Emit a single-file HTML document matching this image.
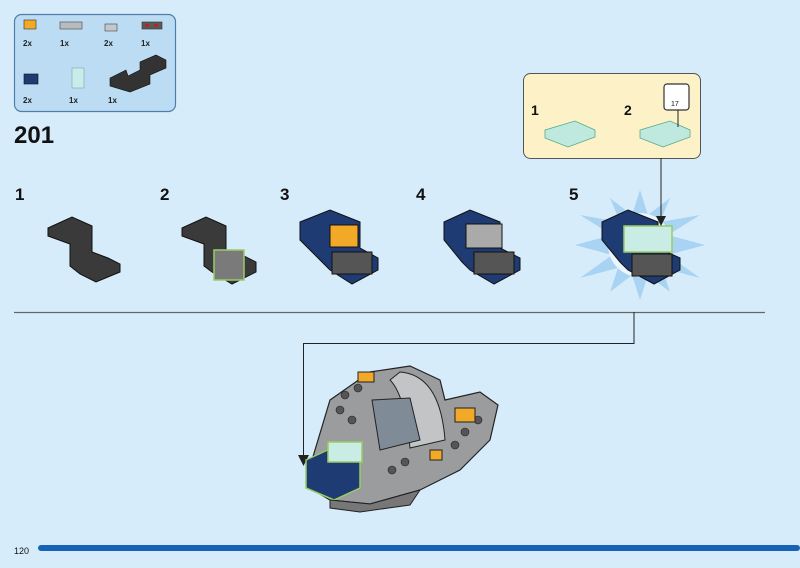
<!DOCTYPE html>
<html><head><style>
html,body{margin:0;padding:0;background:#d7ecfa;}
svg{display:block;font-family:"Liberation Sans",sans-serif;}
</style></head><body>
<svg width="800" height="568" viewBox="0 0 800 568" xmlns="http://www.w3.org/2000/svg">
<rect width="800" height="568" fill="#d7ecfa"/>
<rect x="14.5" y="14.5" width="161" height="97" rx="7" fill="#bcdcf3" stroke="#4f7fa8" stroke-width="1.2"/>
<g font-size="8" font-weight="bold" fill="#222">
<rect x="24" y="20" width="12" height="9" fill="#f2a928" stroke="#333" stroke-width=".6"/>
<text x="23" y="46">2x</text>
<rect x="60" y="22" width="22" height="7" fill="#b9bcbf" stroke="#444" stroke-width=".6"/>
<text x="60" y="46">1x</text>
<rect x="105" y="24" width="12" height="7" fill="#c5c8cb" stroke="#444" stroke-width=".6"/>
<text x="104" y="46">2x</text>
<rect x="142" y="22" width="20" height="7" fill="#5a5a5a" stroke="#333" stroke-width=".6"/>
<rect x="145" y="24" width="4" height="3" fill="#b22"/><rect x="154" y="24" width="4" height="3" fill="#b22"/>
<text x="141" y="46">1x</text>
<rect x="24" y="74" width="14" height="10" fill="#1f3b73" stroke="#111" stroke-width=".6"/>
<text x="23" y="103">2x</text>
<rect x="72" y="68" width="12" height="20" fill="#c9ecea" stroke="#7aa" stroke-width=".6"/>
<text x="69" y="103">1x</text>
<polygon points="110,78 126,70 128,76 140,70 140,62 156,55 166,60 166,68 150,75 150,84 130,92 110,86" fill="#333" stroke="#111" stroke-width=".6"/>
<text x="108" y="103">1x</text>
</g>
<text x="14" y="143" font-size="24" font-weight="bold" fill="#111">201</text>
<rect x="523.5" y="73.5" width="177" height="85" rx="7" fill="#fdf1c8" stroke="#555" stroke-width="1"/>
<text x="531" y="115" font-size="14" font-weight="bold" fill="#111">1</text>
<text x="624" y="115" font-size="14" font-weight="bold" fill="#111">2</text>
<polygon points="545,130 575,121 595,130 595,137 568,147 545,138" fill="#bfe9df" stroke="#5a8" stroke-width=".8"/>
<polygon points="640,130 670,121 690,130 690,137 663,147 640,138" fill="#bfe9df" stroke="#5a8" stroke-width=".8"/>
<rect x="664" y="84" width="25" height="26" rx="3" fill="#fff" stroke="#333" stroke-width="1.2"/>
<text x="671" y="106" font-size="7" fill="#111">17</text>
<line x1="678" y1="110" x2="678" y2="127" stroke="#222" stroke-width="1"/>
<g font-size="17" font-weight="bold" fill="#111">
<text x="15" y="200">1</text><text x="160" y="200">2</text><text x="280" y="200">3</text><text x="416" y="200">4</text><text x="569" y="200">5</text>
</g>
<polygon points="48,228 72,217 92,226 92,252 108,258 120,264 120,272 96,282 80,274 70,266 70,244 48,236" fill="#3a3a3a" stroke="#111" stroke-width="1"/>
<polygon points="182,228 206,217 226,226 226,252 236,252 256,262 256,272 232,284 212,272 204,266 204,244 182,236" fill="#3a3a3a" stroke="#111" stroke-width="1"/>
<rect x="214" y="250" width="30" height="30" fill="#7a7a7a" stroke="#9c6" stroke-width="1.5"/>
<polygon points="300,222 330,210 360,222 360,248 378,258 378,270 352,284 330,270 322,262 300,240" fill="#1f3b73" stroke="#111" stroke-width="1"/>
<rect x="330" y="225" width="28" height="22" fill="#f2a928" stroke="#111"/>
<rect x="332" y="252" width="40" height="22" fill="#555" stroke="#111"/>
<polygon points="444,222 470,210 500,222 500,248 520,258 520,270 494,284 470,270 462,262 444,240" fill="#1f3b73" stroke="#111" stroke-width="1"/>
<rect x="466" y="224" width="36" height="24" fill="#aaa" stroke="#111"/>
<rect x="474" y="252" width="40" height="22" fill="#555" stroke="#111"/>
<polygon points="640,190 648,215 670,198 660,222 700,215 668,235 705,245 668,255 700,278 662,268 670,292 648,275 640,300 632,275 610,292 618,268 580,278 612,255 575,245 612,235 580,215 620,222 610,198 632,215" fill="#a9d3f3"/>
<circle cx="640" cy="245" r="32" fill="#eaf5fd"/>
<polygon points="602,222 628,210 658,222 658,248 680,258 680,270 654,284 628,270 620,262 602,240" fill="#1f3b73" stroke="#111" stroke-width="1"/>
<rect x="624" y="226" width="48" height="26" fill="#c9ece5" stroke="#9c6" stroke-width="1.5"/>
<rect x="632" y="254" width="40" height="22" fill="#555" stroke="#111"/>
<line x1="661" y1="158" x2="661" y2="224" stroke="#222" stroke-width="1"/>
<polygon points="656,216 666,216 661,226" fill="#222"/>
<line x1="14" y1="312.5" x2="765" y2="312.5" stroke="#666" stroke-width="1.2"/>
<polyline points="634,312 634,343.5 303.5,343.5 303.5,462" fill="none" stroke="#222" stroke-width="1"/>
<polygon points="298,455 309,455 303.5,466" fill="#222"/>
<polygon points="330,400 370,372 410,366 440,380 445,400 480,392 498,405 490,440 460,470 420,490 370,504 330,500 310,488 312,460" fill="#9a9c9e" stroke="#222" stroke-width="1.2"/>
<path d="M400,372 Q440,375 445,440 L410,448 Q405,395 390,380Z" fill="#c2c4c6" stroke="#222"/>
<polygon points="372,400 410,398 420,440 380,450" fill="#7f8b97" stroke="#222"/>
<g fill="#555" stroke="#222" stroke-width=".6">
<circle cx="345" cy="395" r="4"/><circle cx="358" cy="388" r="4"/><circle cx="340" cy="410" r="4"/><circle cx="352" cy="420" r="4"/><circle cx="465" cy="432" r="4"/><circle cx="478" cy="420" r="4"/><circle cx="455" cy="445" r="4"/><circle cx="392" cy="470" r="4"/><circle cx="405" cy="462" r="4"/>
</g>
<rect x="358" y="372" width="16" height="10" fill="#f2a928" stroke="#222"/>
<rect x="455" y="408" width="20" height="14" fill="#f2a928" stroke="#222"/>
<rect x="430" y="450" width="12" height="10" fill="#f2a928" stroke="#222"/>
<polygon points="306,460 332,448 360,458 360,488 334,500 306,488" fill="#1f3b73" stroke="#9c6" stroke-width="1.5"/>
<rect x="328" y="442" width="34" height="20" fill="#c9ece5" stroke="#9c6" stroke-width="1.5"/>
<polygon points="330,500 370,504 420,490 410,505 360,512 330,508" fill="#777" stroke="#222"/>
<text x="14" y="554" font-size="9" fill="#111">120</text>
<rect x="38" y="545" width="762" height="6" rx="3" fill="#1764b5"/>
</svg>
</body></html>
